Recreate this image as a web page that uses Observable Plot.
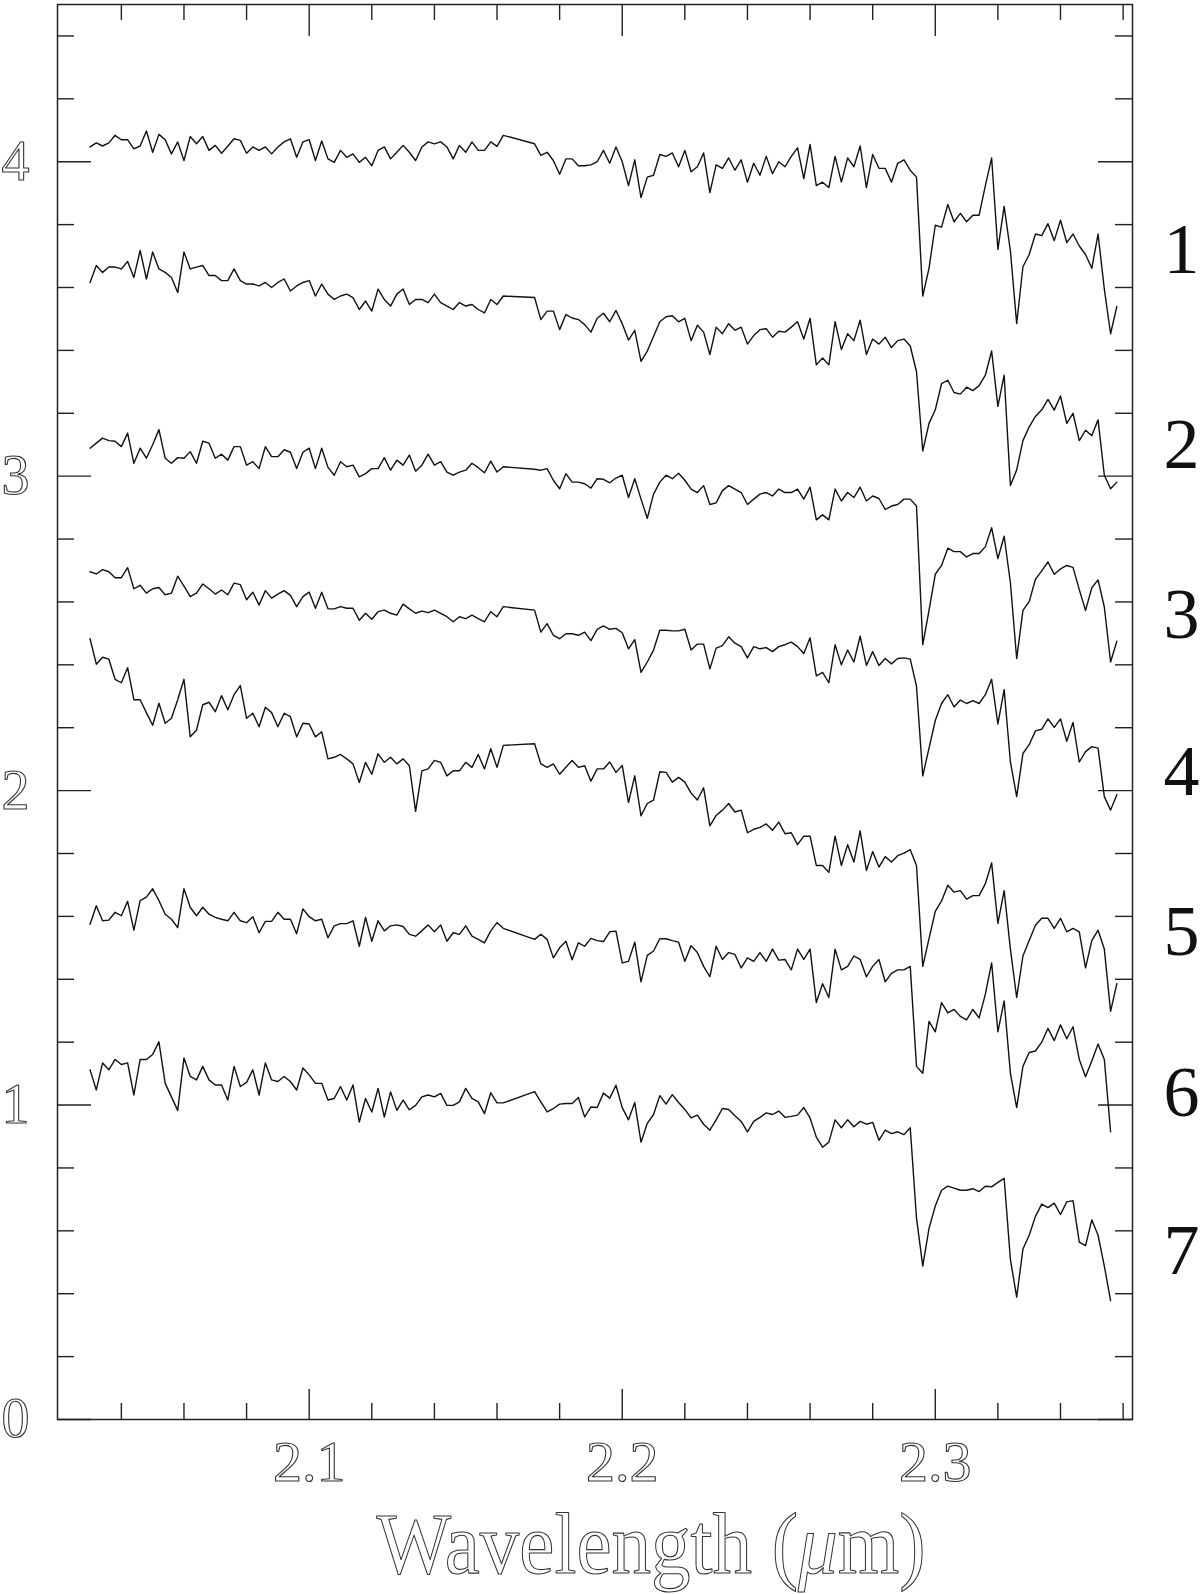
<!DOCTYPE html>
<html>
<head>
<meta charset="utf-8">
<script src="https://cdn.jsdelivr.net/npm/d3@7"></script>
<script src="https://cdn.jsdelivr.net/npm/@observablehq/plot@0.6"></script>
<style>
  html, body { margin: 0; padding: 0; background: #fff; }
  #chart svg { display: block; }
</style>
</head>
<body>
<div id="chart"></div>
<script>
// ---- Wavelength samples (µm): blue part, then red part after the data gap ----
const wlBlue = [2.030,2.032,2.034,2.036,2.038,2.040,2.042,2.044,2.046,2.048,
2.050,2.052,2.054,2.056,2.058,2.060,2.062,2.064,2.066,2.068,
2.070,2.072,2.074,2.076,2.078,2.080,2.082,2.084,2.086,2.088,
2.090,2.092,2.094,2.096,2.098,2.100,2.102,2.104,2.106,2.108,
2.110,2.112,2.114,2.116,2.118,2.120,2.122,2.124,2.126,2.128,
2.130,2.132,2.134,2.136,2.138,2.140,2.142,2.144,2.146,2.148,
2.150,2.152,2.154,2.156,2.158,2.160,2.162];
const wlRed = [2.172,2.174,2.176,2.178,2.180,2.182,2.184,2.186,2.188,2.190,
2.192,2.194,2.196,2.198,2.200,2.202,2.204,2.206,2.208,2.210,
2.212,2.214,2.216,2.218,2.220,2.222,2.224,2.226,2.228,2.230,
2.232,2.234,2.236,2.238,2.240,2.242,2.244,2.246,2.248,2.250,
2.252,2.254,2.256,2.258,2.260,2.262,2.264,2.266,2.268,2.270,
2.272,2.274,2.276,2.278,2.280,2.282,2.284,2.286,2.288,2.290,
2.292,2.294,2.296,2.298,2.300,2.302,2.304,2.306,2.308,2.310,
2.312,2.314,2.316,2.318,2.320,2.322,2.324,2.326,2.328,2.330,
2.332,2.334,2.336,2.338,2.340,2.342,2.344,2.346,2.348,2.350,
2.352,2.354,2.356,2.358];

// ---- Offset spectra (relative flux + offset) ----
const spectrum1 = [
4.047,4.06,4.05,4.06,4.084,4.07,4.07,4.041,4.05,4.098,
4.03,4.087,4.07,4.025,4.063,4.004,4.08,4.057,4.08,4.036,
4.052,4.027,4.049,4.073,4.068,4.027,4.047,4.036,4.047,4.025,
4.047,4.063,4.073,4.014,4.063,4.07,4.004,4.066,4.009,3.998,
4.036,4.014,4.025,3.998,4.014,3.987,4.036,4.047,4.009,4.03,
4.052,4.03,4.004,4.047,4.063,4.057,4.063,4.047,4.009,4.052,
4.03,4.063,4.036,4.036,4.063,4.049,4.084,
4.057,4.02,4.03,4.004,3.96,4.009,4.009,3.987,3.987,3.99,
4.0,4.036,3.995,4.047,4.0,3.924,4.006,3.886,3.951,3.957,
4.023,4.017,4.028,3.984,4.036,3.968,3.984,4.028,3.902,3.99,
3.979,4.012,3.973,4.006,3.935,3.995,3.957,4.017,3.962,4.0,
3.984,4.017,4.044,3.946,4.055,3.924,3.935,3.918,4.017,3.935,
4.012,3.984,4.05,3.918,4.023,3.979,3.979,3.935,3.995,4.006,
3.973,3.951,3.573,3.661,3.798,3.792,3.864,3.809,3.836,3.809,
3.83,3.83,3.924,4.012,3.721,3.858,3.716,3.485,3.666,3.705,
3.77,3.765,3.803,3.749,3.814,3.743,3.77,3.732,3.705,3.661,
3.77,3.595,3.453,3.54];
const spectrum2 = [
3.616,3.67,3.648,3.665,3.665,3.659,3.683,3.632,3.718,3.627,
3.713,3.659,3.648,3.632,3.584,3.713,3.659,3.665,3.67,3.638,
3.638,3.622,3.622,3.659,3.622,3.611,3.611,3.605,3.616,3.6,
3.616,3.627,3.589,3.605,3.616,3.622,3.573,3.611,3.579,3.562,
3.573,3.579,3.568,3.53,3.557,3.525,3.595,3.562,3.541,3.579,
3.595,3.546,3.562,3.562,3.552,3.579,3.552,3.541,3.53,3.552,
3.541,3.546,3.53,3.519,3.562,3.546,3.573,
3.568,3.498,3.525,3.525,3.466,3.514,3.503,3.498,3.482,3.458,
3.502,3.518,3.491,3.527,3.485,3.433,3.464,3.365,3.398,3.444,
3.491,3.507,3.51,3.491,3.502,3.431,3.48,3.458,3.387,3.474,
3.453,3.485,3.464,3.474,3.42,3.447,3.466,3.469,3.442,3.461,
3.458,3.474,3.491,3.436,3.502,3.354,3.376,3.354,3.491,3.403,
3.453,3.431,3.496,3.387,3.436,3.42,3.442,3.409,3.431,3.436,
3.414,3.332,3.08,3.168,3.211,3.294,3.305,3.266,3.261,3.283,
3.272,3.288,3.321,3.398,3.222,3.321,2.97,3.02,3.113,3.157,
3.19,3.211,3.244,3.21,3.255,3.168,3.2,3.113,3.146,3.129,
3.179,3.003,2.96,2.981];
const spectrum3 = [
3.089,3.105,3.121,3.113,3.111,3.094,3.137,3.041,3.089,3.057,
3.1,3.148,3.057,3.041,3.059,3.057,3.078,3.041,3.111,3.105,
3.057,3.07,3.051,3.094,3.094,3.035,3.046,3.024,3.094,3.062,
3.062,3.084,3.076,3.024,3.076,3.089,3.024,3.089,3.028,3.003,
3.046,3.03,3.035,2.998,3.008,3.024,3.024,3.059,3.019,3.051,
3.035,3.067,3.016,3.035,3.07,3.035,3.046,3.013,3.003,3.013,
3.019,3.041,3.027,3.011,3.048,3.013,3.03,
3.022,3.019,3.024,2.987,2.96,3.008,2.981,2.981,2.976,2.962,
2.992,2.99,2.979,2.994,3.003,2.932,2.992,2.927,2.866,2.943,
2.981,3.003,2.992,3.009,2.987,2.959,2.948,2.97,2.91,2.915,
2.954,2.97,2.959,2.948,2.91,2.927,2.943,2.948,2.937,2.959,
2.948,2.948,2.959,2.927,2.965,2.861,2.877,2.861,2.959,2.921,
2.948,2.932,2.965,2.921,2.937,2.929,2.894,2.905,2.91,2.927,
2.927,2.905,2.464,2.573,2.688,2.716,2.771,2.76,2.76,2.743,
2.754,2.754,2.776,2.836,2.738,2.809,2.661,2.42,2.573,2.601,
2.672,2.699,2.727,2.688,2.705,2.716,2.71,2.639,2.573,2.645,
2.67,2.584,2.409,2.475];
const spectrum4 = [
2.696,2.689,2.703,2.696,2.677,2.677,2.709,2.642,2.653,2.628,
2.642,2.646,2.623,2.628,2.682,2.65,2.617,2.628,2.657,2.642,
2.625,2.638,2.623,2.66,2.655,2.607,2.631,2.59,2.636,2.612,
2.625,2.636,2.621,2.585,2.617,2.631,2.58,2.631,2.578,2.578,
2.585,2.58,2.58,2.542,2.564,2.545,2.569,2.574,2.564,2.558,
2.593,2.578,2.564,2.571,2.566,2.574,2.564,2.553,2.537,2.553,
2.547,2.558,2.547,2.537,2.569,2.553,2.585,
2.574,2.504,2.531,2.494,2.483,2.499,2.499,2.494,2.504,2.477,
2.513,2.524,2.513,2.516,2.502,2.451,2.48,2.376,2.409,2.447,
2.51,2.51,2.508,2.508,2.513,2.447,2.466,2.466,2.387,2.453,
2.461,2.489,2.469,2.458,2.422,2.458,2.451,2.455,2.442,2.458,
2.464,2.472,2.458,2.436,2.486,2.365,2.376,2.343,2.464,2.4,
2.447,2.409,2.491,2.398,2.442,2.398,2.42,2.403,2.42,2.422,
2.418,2.332,2.047,2.135,2.223,2.277,2.305,2.266,2.288,2.277,
2.286,2.277,2.305,2.354,2.212,2.321,2.091,1.981,2.118,2.146,
2.19,2.195,2.228,2.201,2.228,2.157,2.217,2.091,2.124,2.14,
2.135,1.981,1.938,1.987];
const spectrum5 = [
2.483,2.402,2.424,2.418,2.354,2.343,2.391,2.289,2.289,2.248,
2.208,2.278,2.214,2.23,2.289,2.354,2.171,2.192,2.273,2.281,
2.251,2.302,2.257,2.305,2.334,2.23,2.246,2.203,2.265,2.248,
2.203,2.246,2.235,2.171,2.214,2.212,2.171,2.187,2.101,2.106,
2.115,2.101,2.085,2.026,2.09,2.052,2.117,2.09,2.106,2.085,
2.101,2.079,1.934,2.063,2.069,2.096,2.09,2.047,2.063,2.063,
2.09,2.074,2.115,2.069,2.133,2.074,2.144,
2.149,2.085,2.074,2.085,2.052,2.074,2.096,2.074,2.079,2.03,
2.069,2.069,2.091,2.058,2.08,1.962,2.047,1.92,1.959,1.97,
2.06,2.058,2.027,2.042,2.027,1.992,1.97,2.009,1.888,1.921,
1.938,1.959,1.932,1.938,1.866,1.877,1.883,1.894,1.874,1.9,
1.863,1.866,1.828,1.855,1.855,1.762,1.762,1.74,1.855,1.762,
1.828,1.773,1.872,1.746,1.806,1.757,1.79,1.773,1.793,1.801,
1.812,1.762,1.441,1.529,1.616,1.649,1.699,1.677,1.682,1.655,
1.666,1.666,1.704,1.77,1.578,1.682,1.496,1.342,1.474,1.523,
1.572,1.594,1.594,1.562,1.594,1.551,1.562,1.551,1.436,1.523,
1.556,1.496,1.298,1.386];
const spectrum6 = [
1.575,1.634,1.586,1.588,1.613,1.602,1.648,1.556,1.65,1.661,
1.688,1.65,1.607,1.591,1.564,1.688,1.629,1.602,1.629,1.607,
1.597,1.591,1.586,1.613,1.586,1.58,1.599,1.548,1.584,1.584,
1.613,1.591,1.591,1.545,1.624,1.599,1.586,1.591,1.532,1.57,
1.577,1.577,1.586,1.505,1.597,1.521,1.586,1.554,1.57,1.573,
1.568,1.543,1.537,1.554,1.573,1.551,1.573,1.521,1.548,1.543,
1.57,1.537,1.527,1.516,1.554,1.58,1.562,
1.527,1.543,1.527,1.468,1.5,1.521,1.462,1.516,1.505,1.53,
1.523,1.52,1.551,1.553,1.452,1.457,1.518,1.392,1.476,1.49,
1.529,1.529,1.523,1.518,1.457,1.507,1.485,1.441,1.408,1.505,
1.463,1.485,1.479,1.436,1.468,1.457,1.485,1.457,1.496,1.461,
1.463,1.43,1.496,1.463,1.496,1.326,1.386,1.342,1.496,1.43,
1.441,1.474,1.463,1.408,1.441,1.463,1.392,1.419,1.43,1.43,
1.441,1.123,1.101,1.266,1.233,1.326,1.293,1.304,1.282,1.271,
1.304,1.277,1.353,1.452,1.233,1.331,1.101,0.992,1.123,1.167,
1.172,1.2,1.244,1.205,1.255,1.211,1.249,1.145,1.09,1.14,
1.194,1.145,0.915,null];
const spectrum7 = [
1.112,1.048,1.134,1.112,1.145,1.129,1.134,1.032,1.145,1.145,
1.161,1.201,1.069,1.026,0.983,1.15,1.091,1.08,1.123,1.08,
1.064,1.064,1.016,1.123,1.059,1.072,1.112,1.032,1.134,1.08,
1.075,1.091,1.075,1.048,1.118,1.096,1.069,1.069,1.016,1.021,
1.059,1.016,1.064,0.946,1.021,0.978,1.053,0.962,1.042,0.983,
1.016,0.985,0.999,1.026,1.032,1.026,1.037,0.999,0.999,1.01,
1.053,1.021,1.01,0.973,1.039,1.007,1.007,
1.043,1.01,0.978,0.989,1.003,1.005,1.005,1.024,0.962,0.994,
0.992,1.038,1.022,1.063,0.992,0.953,1.008,0.882,0.942,0.97,
1.03,1.003,1.033,1.008,0.986,0.959,0.968,0.939,0.92,0.953,
0.989,0.986,0.966,0.948,0.915,0.948,0.961,0.975,0.97,0.981,
0.961,0.964,0.968,0.992,0.959,0.898,0.866,0.882,0.953,0.928,
0.953,0.931,0.948,0.939,0.945,0.888,0.92,0.909,0.915,0.906,
0.928,0.641,0.488,0.608,0.679,0.729,0.742,0.736,0.729,0.729,
0.734,0.725,0.742,0.74,0.754,0.767,0.509,0.389,0.542,0.586,
0.646,0.685,0.674,0.688,0.652,0.692,0.696,0.564,0.553,0.635,
0.586,0.488,0.378,null];

// ---- Curve labels and the level (y) beside which each sits ----
const curveLabels = ["1", "2", "3", "4", "5", "6", "7"];
const curveLabelLevels = [3.72, 3.10, 2.56, 2.06, 1.55, 1.04, 0.535];

// ---- Axis ticks ----
const yTickLabels = [0, 1, 2, 3, 4];
const yMinorTicks = [0.2,0.4,0.6,0.8,1.2,1.4,1.6,1.8,2.2,2.4,2.6,2.8,3.2,3.4,3.6,3.8,4.2,4.4];
const xTickLabels = [2.1, 2.2, 2.3];
const xMinorTicks = [2.04,2.06,2.08,2.12,2.14,2.16,2.18,2.22,2.24,2.26,2.28,2.32,2.34,2.36];
const xDomain = [2.0196, 2.3630];
const yDomain = [0, 4.5];
const xTitle = "Wavelength (μm)";

// ---- Build the table ----
const wavelengths = wlBlue.concat(wlRed);
const spectra = [spectrum1, spectrum2, spectrum3, spectrum4, spectrum5, spectrum6, spectrum7];
spectra.forEach((s, i) => {
  if (s.length !== wavelengths.length) throw new Error(`spectrum${i + 1} has ${s.length} values, expected ${wavelengths.length}`);
});
const rows = [];
spectra.forEach((s, i) => {
  s.forEach((v, j) => {
    if (v != null) rows.push({id: curveLabels[i], wl: wavelengths[j], flux: v});
  });
});
const labelRows = curveLabels.map((t, i) => ({t, y: curveLabelLevels[i]}));

const W = 1200, H = 1594;
const mL = 57, mR = 68, mT = 4, mB = 175;
const innerW = W - mL - mR, innerH = H - mT - mB;
const ink = "#222";

const svg = Plot.plot({
  width: W, height: H,
  marginLeft: mL, marginRight: mR, marginTop: mT, marginBottom: mB,
  x: {domain: xDomain, axis: null},
  y: {domain: yDomain, axis: null},
  style: {background: "white", overflow: "visible"},
  marks: [
    // inward ticks on all four sides
    Plot.tickY(yTickLabels, {y: d => d, insetRight: innerW - 34, stroke: ink, strokeWidth: 1.4}),
    Plot.tickY(yTickLabels, {y: d => d, insetLeft: innerW - 34, stroke: ink, strokeWidth: 1.4}),
    Plot.tickY(yMinorTicks, {y: d => d, insetRight: innerW - 17, stroke: ink, strokeWidth: 1.4}),
    Plot.tickY(yMinorTicks, {y: d => d, insetLeft: innerW - 17, stroke: ink, strokeWidth: 1.4}),
    Plot.tickX(xTickLabels, {x: d => d, insetTop: innerH - 30, stroke: ink, strokeWidth: 1.4}),
    Plot.tickX(xTickLabels, {x: d => d, insetBottom: innerH - 32, stroke: ink, strokeWidth: 1.4}),
    Plot.tickX(xMinorTicks, {x: d => d, insetTop: innerH - 16, stroke: ink, strokeWidth: 1.4}),
    Plot.tickX(xMinorTicks, {x: d => d, insetBottom: innerH - 16, stroke: ink, strokeWidth: 1.4}),
    // spectra
    Plot.line(rows, {x: "wl", y: "flux", z: "id", stroke: "#111", strokeWidth: 1.4, curve: "linear"}),
    Plot.frame({stroke: ink, strokeWidth: 1.5}),
    // y tick labels (outlined, plotter style)
    Plot.text(yTickLabels, {
      y: d => d, frameAnchor: "left", lineAnchor: "middle", dx: -28, textAnchor: "end", text: d => String(d),
      fontSize: 56, fontFamily: "Liberation Serif",
      fill: "white", stroke: "#333", strokeWidth: 1.1, paintOrder: "fill"
    }),
    // x tick labels
    Plot.text(xTickLabels, {
      x: d => d, frameAnchor: "bottom", dy: 20, lineAnchor: "top", text: d => d.toFixed(1),
      fontSize: 58, fontFamily: "Liberation Serif",
      fill: "white", stroke: "#333", strokeWidth: 1.1, paintOrder: "fill"
    }),
    // x title
    Plot.text([xTitle], {
      text: d => d, frameAnchor: "bottom", lineAnchor: "middle", dx: 56, dy: 126,
      fontSize: 86, fontFamily: "Liberation Serif",
      fill: "white", stroke: "#333", strokeWidth: 1.1, paintOrder: "fill"
    }),
    // curve numbers at right
    Plot.text(labelRows, {
      y: "y", text: "t", frameAnchor: "right", lineAnchor: "middle", dx: 49, textAnchor: "middle",
      fontSize: 72, fontFamily: "Liberation Serif", fill: "#111"
    })
  ]
});

// style the title: italic mu and fitted width (plotter-like lettering)
d3.select(svg).selectAll("text").filter(function () { return this.textContent === xTitle; })
  .each(function () {
    const t = d3.select(this);
    t.text(null);
    t.append("tspan").text("Wavelength (");
    t.append("tspan").attr("font-style", "italic").text("μ");
    t.append("tspan").text("m)");
    t.attr("textLength", 549).attr("lengthAdjust", "spacingAndGlyphs");
  });

document.getElementById("chart").appendChild(svg);
</script>
</body>
</html>
